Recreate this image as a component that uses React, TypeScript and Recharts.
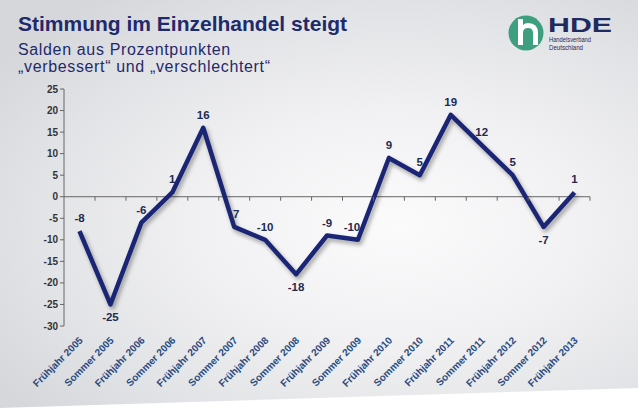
import React from "react";
import {
  LineChart,
  Line,
  XAxis,
  YAxis,
  ReferenceLine,
  ReferenceDot,
  LabelList,
} from "recharts";

const categories = [
  "Frühjahr 2005",
  "Sommer 2005",
  "Frühjahr 2006",
  "Sommer 2006",
  "Frühjahr 2007",
  "Sommer 2007",
  "Frühjahr 2008",
  "Sommer 2008",
  "Frühjahr 2009",
  "Sommer 2009",
  "Frühjahr 2010",
  "Sommer 2010",
  "Frühjahr 2011",
  "Sommer 2011",
  "Frühjahr 2012",
  "Sommer 2012",
  "Frühjahr 2013",
];

const salden = [-8, -25, -6, 1, 16, -7, -10, -18, -9, -10, 9, 5, 19, 12, 5, -7, 1];

const yTicks = [-30, -25, -20, -15, -10, -5, 0, 5, 10, 15, 20, 25];

// indices whose value label sits below the point
const labelsBelow = [1, 7, 15];

const data = categories.map((name, i) => ({ name, value: salden[i] }));

const NAVY = "#1b2575";
const TEXT = "#1f2a4f";
const FONT = "Liberation Sans, Arial, sans-serif";

const XTick = (props: any) => {
  const { x, y, payload } = props;
  const ax = x + 4;
  const ay = y + 13;
  return (
    <text
      x={ax}
      y={ay}
      transform={`rotate(-45, ${ax}, ${ay})`}
      textAnchor="end"
      fontSize={10}
      fontWeight="bold"
      fill="#2b4a7e"
      fontFamily={FONT}
    >
      {payload.value}
    </text>
  );
};

const ValueLabel = (props: any) => {
  const { x, y, value, index } = props;
  const below = labelsBelow.includes(index);
  const dx = index === 9 ? -6 : 0;
  return (
    <text
      x={x + dx}
      y={below ? y + 17 : y - 9}
      textAnchor="middle"
      fontSize={11.5}
      fontWeight="bold"
      fill={TEXT}
      fontFamily={FONT}
    >
      {value}
    </text>
  );
};

const ZeroTick = (props: any) => {
  const { cx, cy } = props;
  return <line x1={cx + 15.5} x2={cx + 15.5} y1={cy} y2={cy + 4} stroke="#666" strokeWidth={1} />;
};

const Logo = () => (
  <svg width={130} height={60} style={{ position: "absolute", left: 500, top: 8 }}>
    <circle cx={26} cy={25} r={17.5} fill="#3d9f7e" />
    <path
      d="M18 11 L18 37 L23 37 L23 25 Q23 20 28 20 Q33 20 33 25 L33 37 L38 37 L38 25 Q38 15 28 15 Q25 15 23 17 L23 11 Z"
      fill="#ffffff"
    />
    <text
      x={48}
      y={24}
      fontSize={21}
      fontWeight="bold"
      fill="#1f2a5e"
      fontFamily={FONT}
      textLength={64}
      lengthAdjust="spacingAndGlyphs"
    >
      HDE
    </text>
    <text
      x={49}
      y={34}
      fontSize={7.5}
      fill="#1f2a5e"
      fontFamily={FONT}
      textLength={42}
      lengthAdjust="spacingAndGlyphs"
    >
      Handelsverband
    </text>
    <text
      x={49}
      y={42}
      fontSize={7.5}
      fill="#1f2a5e"
      fontFamily={FONT}
      textLength={34}
      lengthAdjust="spacingAndGlyphs"
    >
      Deutschland
    </text>
  </svg>
);

export default function App() {
  return (
    <div
      style={{
        position: "absolute",
        left: 0,
        top: 0,
        width: 640,
        height: 415,
        background: "#ffffff",
        overflow: "hidden",
        fontFamily: FONT,
      }}
    >
      <style>{`.recharts-line-curve { filter: drop-shadow(2px 3px 2px rgba(0,0,0,0.35)); }`}</style>
      <div
        style={{
          position: "absolute",
          left: 0,
          top: 0,
          width: 638,
          height: 410,
          clipPath: "polygon(0 0, 638px 0, 638px 388px, 0 408px)",
          background:
            "radial-gradient(ellipse 75% 70% at 62% 55%, #fbfbfc 0%, #f1f1f3 40%, #e2e3e6 75%, #d6d7db 100%)",
        }}
      />
      <div
        style={{
          position: "absolute",
          left: 18,
          top: 12,
          fontSize: 21,
          fontWeight: "bold",
          color: "#1f2a6b",
          whiteSpace: "nowrap",
          lineHeight: "24px",
        }}
      >
        Stimmung im Einzelhandel steigt
      </div>
      <div
        style={{
          position: "absolute",
          left: 18,
          top: 41,
          fontSize: 16,
          letterSpacing: 0.65,
          color: "#1f2a6b",
          whiteSpace: "nowrap",
          lineHeight: "17px",
        }}
      >
        Salden aus Prozentpunkten
      </div>
      <div
        style={{
          position: "absolute",
          left: 18,
          top: 58,
          fontSize: 16,
          letterSpacing: 0.65,
          color: "#1f2a6b",
          whiteSpace: "nowrap",
          lineHeight: "17px",
        }}
      >
        „verbessert“ und „verschlechtert“
      </div>
      <Logo />
      <div style={{ position: "absolute", left: 0, top: 0 }}>
        <LineChart
          width={640}
          height={415}
          data={data}
          margin={{ top: 89, right: 50, bottom: 9, left: 0 }}
        >
          <XAxis
            dataKey="name"
            type="category"
            interval={0}
            padding={{ left: 15.5, right: 15.5 }}
            axisLine={false}
            tickLine={false}
            tickSize={0}
            height={80}
            tick={<XTick />}
          />
          <YAxis
            domain={[-30, 25]}
            ticks={yTicks}
            interval={0}
            width={64}
            axisLine={{ stroke: "#666666" }}
            tickLine={{ stroke: "#666666" }}
            tickSize={4}
            tick={{
              fontSize: 10,
              fontWeight: "bold",
              fill: "#333333",
              fontFamily: FONT,
            }}
          />
          <ReferenceLine y={0} stroke="#666666" strokeWidth={1} />
          {categories.map((c) => (
            <ReferenceDot key={c} x={c} y={0} r={0} shape={<ZeroTick />} />
          ))}
          <Line
            type="linear"
            dataKey="value"
            stroke={NAVY}
            strokeWidth={4.5}
            strokeLinejoin="round"
            dot={false}
            activeDot={false}
            isAnimationActive={false}
          >
            <LabelList dataKey="value" content={<ValueLabel />} />
          </Line>
        </LineChart>
      </div>
    </div>
  );
}
